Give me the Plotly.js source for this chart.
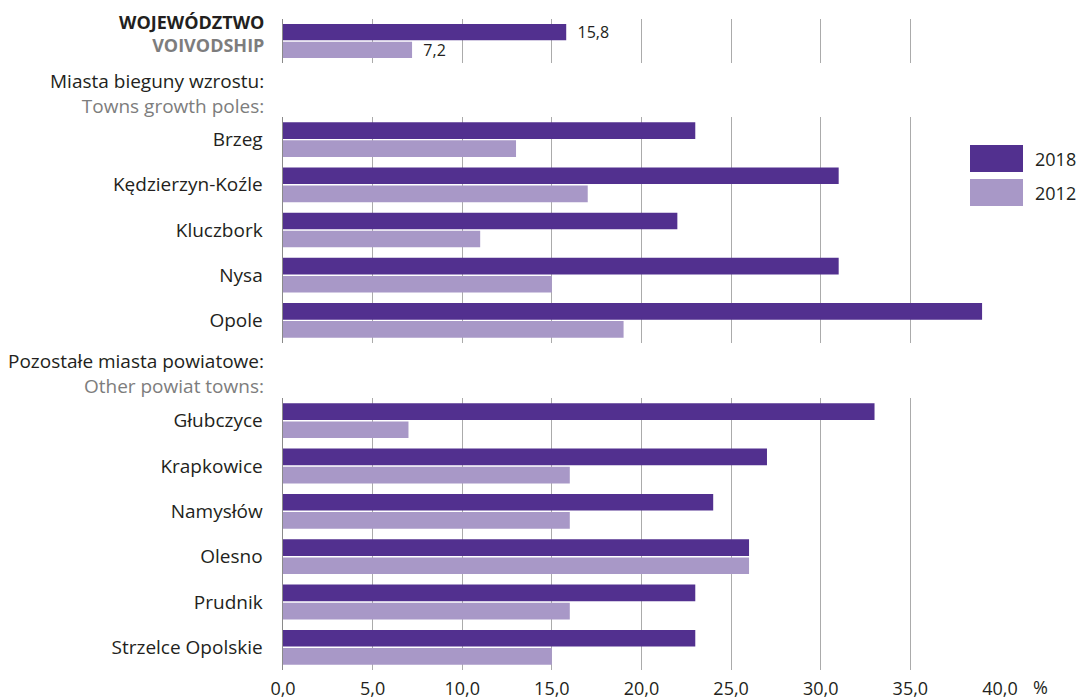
<!DOCTYPE html>
<html>
<head>
<meta charset="utf-8">
<script src="https://cdn.plot.ly/plotly-3.0.1.min.js"></script>
<style>
  html, body { margin: 0; padding: 0; background: #ffffff; }
  #chart { width: 1077px; height: 699px; }
</style>
</head>
<body>
<div id="chart"></div>
<script>
// Series names
const seriesNames = ['2018', '2012'];

// Voivodship total
const voivCategory = ['WOJEWÓDZTWO'];
const voiv2018 = [15.8];
const voiv2012 = [7.2];

// Towns growth poles
const polesCategories = ['Brzeg', 'Kędzierzyn-Koźle', 'Kluczbork', 'Nysa', 'Opole'];
const poles2018 = [23, 31, 22, 31, 39];
const poles2012 = [13, 17, 11, 15, 19];

// Other powiat towns
const otherCategories = ['Głubczyce', 'Krapkowice', 'Namysłów', 'Olesno', 'Prudnik', 'Strzelce Opolskie'];
const other2018 = [33, 27, 24, 26, 23, 23];
const other2012 = [7, 16, 16, 26, 16, 15];

// Axis ticks
const xTickValues = [0, 5, 10, 15, 20, 25, 30, 35, 40];

// Group header labels (Polish / English)
const headerVoiv = ['WOJEWÓDZTWO', 'VOIVODSHIP'];
const headerPoles = ['Miasta bieguny wzrostu:', 'Towns growth poles:'];
const headerOther = ['Pozostałe miasta powiatowe:', 'Other powiat towns:'];

// ---- styling ----
const FONT = '"Open Sans", "Liberation Sans", sans-serif';
const DARK = '#231f20';
const GREY = '#7d7d7d';
const C2018 = '#52308f';
const C2012 = '#a898c7';
const GRID = '#ababab';
const LABEL_SIZE = 19;

// page geometry of the plotting area
const W = 1077, H = 699;
const M = { l: 283, r: 77, t: 19, b: 29 };
const plotTop = M.t, plotBottom = H - M.b, plotH = plotBottom - plotTop;
const plotLeft = M.l, plotW = W - M.l - M.r;
const py = p => (plotBottom - p) / plotH;   // pixel row -> paper y
const px = p => (p - plotLeft) / plotW;      // pixel column -> paper x

function barTrace(name, cats, vals, color, xa, ya, withText) {
  const t = {
    type: 'bar', orientation: 'h', name: name,
    y: cats, x: vals,
    xaxis: xa, yaxis: ya,
    marker: { color: color, line: { width: 0 } },
    showlegend: false, hoverinfo: 'skip'
  };
  if (withText) {
    t.texttemplate = '  %{x:.1f}';
    t.textposition = 'outside';
    t.constraintext = 'none';
    t.cliponaxis = false;
    t.textfont = { family: FONT, size: 16, color: DARK };
  }
  return t;
}

const data = [
  barTrace(seriesNames[0], voivCategory, voiv2018, C2018, 'x', 'y', true),
  barTrace(seriesNames[1], voivCategory, voiv2012, C2012, 'x', 'y', true),
  barTrace(seriesNames[0], polesCategories, poles2018, C2018, 'x2', 'y2', false),
  barTrace(seriesNames[1], polesCategories, poles2012, C2012, 'x2', 'y2', false),
  barTrace(seriesNames[0], otherCategories, other2018, C2018, 'x3', 'y3', false),
  barTrace(seriesNames[1], otherCategories, other2012, C2012, 'x3', 'y3', false)
];

function xAxis(anchor, showLabels) {
  return {
    anchor: anchor, range: [0, 40], domain: [0, 1],
    tickvals: xTickValues, tickformat: '.1f',
    showticklabels: showLabels, ticks: '',
    ticklabelstandoff: 6,
    showgrid: true, gridcolor: GRID, gridwidth: 1,
    zeroline: false, showline: false, fixedrange: true,
    tickfont: { family: FONT, size: 18, color: DARK }
  };
}
function yAxis(anchor, domain, showLabels) {
  return {
    anchor: anchor, domain: domain, type: 'category',
    autorange: 'reversed',
    showticklabels: showLabels, ticks: '',
    ticklabelstandoff: 15,
    showgrid: false, zeroline: false,
    showline: true, linecolor: '#8a8a8a', linewidth: 1.5,
    fixedrange: true,
    tickfont: { family: FONT, size: LABEL_SIZE, color: DARK }
  };
}

// two-line group header: Polish line dark, English line grey
function header(lines, centerPix, bold, size) {
  const wrap = s => bold ? '<b>' + s + '</b>' : s;
  return {
    xref: 'paper', yref: 'paper',
    x: px(266), y: py(centerPix),
    xanchor: 'right', yanchor: 'middle', align: 'right',
    text: wrap(lines[0]) + '<br><span style="color:' + GREY + '">' + wrap(lines[1]) + '</span>',
    showarrow: false,
    font: { family: FONT, size: size, color: DARK }
  };
}

const annotations = [
  header(headerVoiv, 33.5, true, 18),
  header(headerPoles, 94, false, LABEL_SIZE),
  header(headerOther, 373, false, LABEL_SIZE),
  {
    xref: 'paper', yref: 'paper', x: px(1031), y: py(687),
    xanchor: 'left', yanchor: 'middle', text: '%', showarrow: false,
    font: { family: FONT, size: 18, color: DARK }
  },
  {
    xref: 'paper', yref: 'paper', x: px(1033), y: py(158.5),
    xanchor: 'left', yanchor: 'middle', text: seriesNames[0], showarrow: false,
    font: { family: FONT, size: 18, color: DARK }
  },
  {
    xref: 'paper', yref: 'paper', x: px(1033), y: py(192.5),
    xanchor: 'left', yanchor: 'middle', text: seriesNames[1], showarrow: false,
    font: { family: FONT, size: 18, color: DARK }
  }
];

const shapes = [
  // clear strip behind the key
  { type: 'rect', xref: 'paper', yref: 'paper', layer: 'above',
    x0: px(985), x1: px(1015), y0: py(217), y1: py(133),
    fillcolor: '#ffffff', line: { width: 0 } },
  // key swatches
  { type: 'rect', xref: 'paper', yref: 'paper', layer: 'above',
    x0: px(970), x1: px(1023), y0: py(172), y1: py(145),
    fillcolor: C2018, line: { width: 0 } },
  { type: 'rect', xref: 'paper', yref: 'paper', layer: 'above',
    x0: px(970), x1: px(1023), y0: py(206), y1: py(179),
    fillcolor: C2012, line: { width: 0 } }
];

const layout = {
  width: W, height: H,
  margin: M,
  paper_bgcolor: '#ffffff', plot_bgcolor: '#ffffff',
  separators: ', ',
  barmode: 'group', bargap: 0.2, bargroupgap: 0.08,
  showlegend: false,
  font: { family: FONT, size: 18, color: DARK },
  xaxis: xAxis('y', false),
  xaxis2: xAxis('y2', false),
  xaxis3: xAxis('y3', true),
  yaxis: yAxis('x', [py(63), py(19)], false),
  yaxis2: yAxis('x2', [py(343), py(117)], true),
  yaxis3: yAxis('x3', [py(670), py(398)], true),
  annotations: annotations,
  shapes: shapes
};

Plotly.newPlot('chart', data, layout, { displayModeBar: false, staticPlot: true });
</script>
</body>
</html>
